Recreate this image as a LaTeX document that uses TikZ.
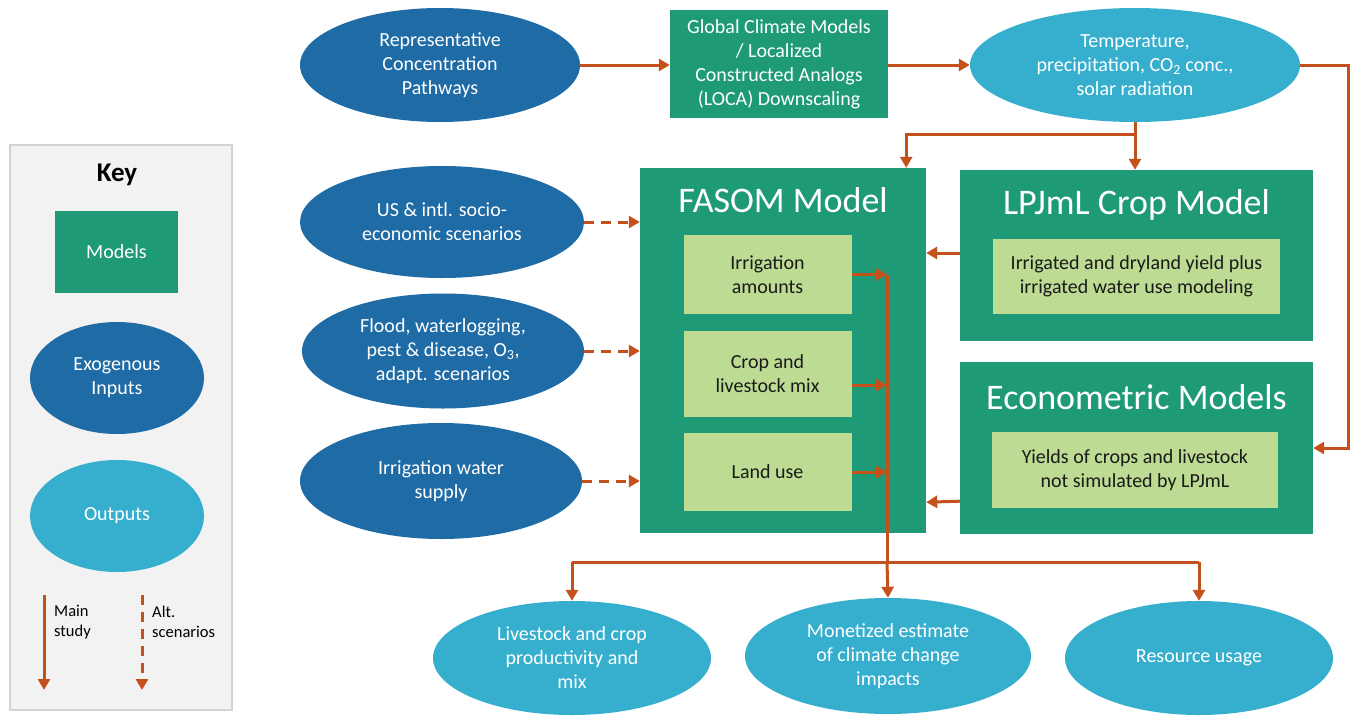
\documentclass[tikz,border=0pt]{standalone}
\usepackage{fontspec}
\setmainfont{Carlito}
\usetikzlibrary{arrows.meta,shapes.geometric,calc}
\definecolor{exoblue}{HTML}{1F6BA6}
\definecolor{outblue}{HTML}{36AFCF}
\definecolor{modgreen}{HTML}{1E9A77}
\definecolor{subgreen}{HTML}{BDDB93}
\definecolor{arr}{HTML}{C4501B}
\definecolor{keybg}{HTML}{F2F2F2}
\definecolor{keyline}{HTML}{D3D3D3}
\definecolor{subtext}{HTML}{1A1A1A}
\begin{document}
\begin{tikzpicture}[x=1pt,y=-1pt,
  txt/.style={font=\fontsize{20}{24}\selectfont, align=center, inner sep=0pt},
  exo/.style={txt, ellipse, fill=exoblue, text=white},
  outp/.style={txt, ellipse, fill=outblue, text=white},
  model/.style={txt, rectangle, fill=modgreen, text=white},
  sub/.style={txt, rectangle, fill=subgreen, text=subtext},
  boxtitle/.style={font=\fontsize{36}{40}\selectfont, text=white, inner sep=0pt},
  link/.style={draw=arr, line width=3pt, -{Triangle[length=11pt,width=12pt]}},
  alt/.style={link, dash pattern=on 10pt off 7pt},
  plain/.style={draw=arr, line width=3pt},
  keylabel/.style={font=\fontsize{16.5}{20}\selectfont, align=left, inner sep=0pt, anchor=west},
]
\useasboundingbox (0,0) rectangle (1359,715);
\fill[white] (0,0) rectangle (1359,715);

% ---------- Key ----------
\node[draw=keyline, fill=keybg, line width=1.5pt, minimum width=222pt, minimum height=565pt, inner sep=0pt] (keybox) at (121,427.5) {};
\node[font=\fontsize{27}{30}\selectfont\bfseries, inner sep=0pt] (keytitle) at (117,175) {Key};
\node[model, minimum width=123pt, minimum height=82pt] (keymodel) at (116.5,252) {Models};
\node[exo, minimum width=174pt, minimum height=112pt] (keyexo) at (117,378) {Exogenous\\Inputs};
\node[outp, minimum width=174pt, minimum height=112pt] (keyout) at (117,516) {Outputs};
\coordinate (ms1) at (44,595);
\coordinate (ms2) at (44,690);
\coordinate (as1) at (142,595);
\coordinate (as2) at (142,690);
\draw[link] (ms1) -- (ms2);
\draw[alt] (as1) -- (as2);
\node[keylabel] (mainlbl) at (54,622) {Main\\study};
\node[keylabel] (altlbl) at (152,622) {Alt.\\scenarios};

% ---------- Top row ----------
\node[exo, minimum width=280pt, minimum height=114pt] (rcp) at (440,65) {Representative\\Concentration\\Pathways};
\node[model, minimum width=218pt, minimum height=108pt] (gcm) at (779,64) {Global Climate Models\\/ Localized\\Constructed Analogs\\(LOCA) Downscaling};
\node[outp, minimum width=330pt, minimum height=114pt] (temp) at (1135,65) {Temperature,\\precipitation, CO\textsubscript{2} conc.,\\solar radiation};

% ---------- Left inputs ----------
\node[exo, minimum width=284pt, minimum height=112pt] (us) at (442,222) {US \& intl. socio-\\economic scenarios};
\node[exo, minimum width=282pt, minimum height=115pt] (flood) at (443,351) {Flood, waterlogging,\\pest \& disease, O\textsubscript{3},\\adapt. scenarios};
\node[exo, minimum width=282pt, minimum height=116pt] (irr) at (441,481) {Irrigation water\\supply};

% ---------- FASOM ----------
\node[model, minimum width=286pt, minimum height=365pt] (fasom) at (783,350.5) {};
\node[boxtitle] (fasomtitle) at (783,200) {FASOM Model};
\node[sub, minimum width=168pt, minimum height=79pt] (ia) at (767.5,274.5) {Irrigation\\amounts};
\node[sub, minimum width=168pt, minimum height=86pt] (clm) at (767.5,374) {Crop and\\livestock mix};
\node[sub, minimum width=168pt, minimum height=78pt] (lu) at (767.5,472) {Land use};

% ---------- LPJmL ----------
\node[model, minimum width=353pt, minimum height=171pt] (lpj) at (1136.5,255.5) {};
\node[boxtitle] (lpjtitle) at (1136.5,205) {LPJmL Crop Model};
\node[sub, minimum width=287pt, minimum height=75pt] (lpjsub) at (1136.5,276.5) {Irrigated and dryland yield plus\\irrigated water use modeling};

% ---------- Econometric ----------
\node[model, minimum width=353pt, minimum height=172pt] (econ) at (1136.5,448) {};
\node[boxtitle] (econtitle) at (1136.5,397) {Econometric Models};
\node[sub, minimum width=286pt, minimum height=76pt] (econsub) at (1135,470) {Yields of crops and livestock\\not simulated by LPJmL};

% ---------- Outputs ----------
\node[outp, minimum width=278pt, minimum height=114pt] (live) at (572,658) {Livestock and crop\\productivity and\\mix};
\node[outp, minimum width=286pt, minimum height=116pt] (mon) at (888,656) {Monetized estimate\\of climate change\\impacts};
\node[outp, minimum width=268pt, minimum height=114pt] (res) at (1199,658) {Resource usage};

% ---------- Connectors ----------
\draw[link] (rcp.east) -- (rcp.east -| gcm.west);
\draw[link] (temp.west -| gcm.east) -- (temp.west);

\coordinate (junc) at (1136,134);
\draw[plain] (temp.south) -- (temp.south |- junc);
\draw[link] (temp.south |- junc) -| ($(fasom.north east)+(-20,0)$);
\draw[link] (temp.south |- junc) -- (temp.south |- lpj.north);
\draw[link] (temp.east) -- ++(48,0) |- (econ.east);

\draw[link] (lpj.west |- 0,253) -- (fasom.east |- 0,253);
\draw[link] ($(econ.south west)+(0,-33)$) -- ($(fasom.south east)+(0,-31)$);

\draw[alt] (us.east) -- (us.east -| fasom.west);
\draw[alt] (flood.east) -- (flood.east -| fasom.west);
\draw[alt] (irr.east) -- (irr.east -| fasom.west);

\coordinate (bustop) at (887,275);
\coordinate (busbot) at (887,562);
\draw[plain] (bustop) -- (busbot);
\draw[link] (ia.east) -- (ia.east -| bustop);
\draw[link] ($(clm.east)+(0,11)$) -- ($(clm.east -| bustop)+(0,11)$);
\draw[link] (lu.east) -- (lu.east -| bustop);

\draw[plain] (busbot -| live.north) -- (busbot -| res.north);
\draw[link] (busbot -| live.north) -- (live.north);
\draw[link] (busbot) -- (mon.north);
\draw[link] (busbot -| res.north) -- (res.north);
\end{tikzpicture}
\end{document}
